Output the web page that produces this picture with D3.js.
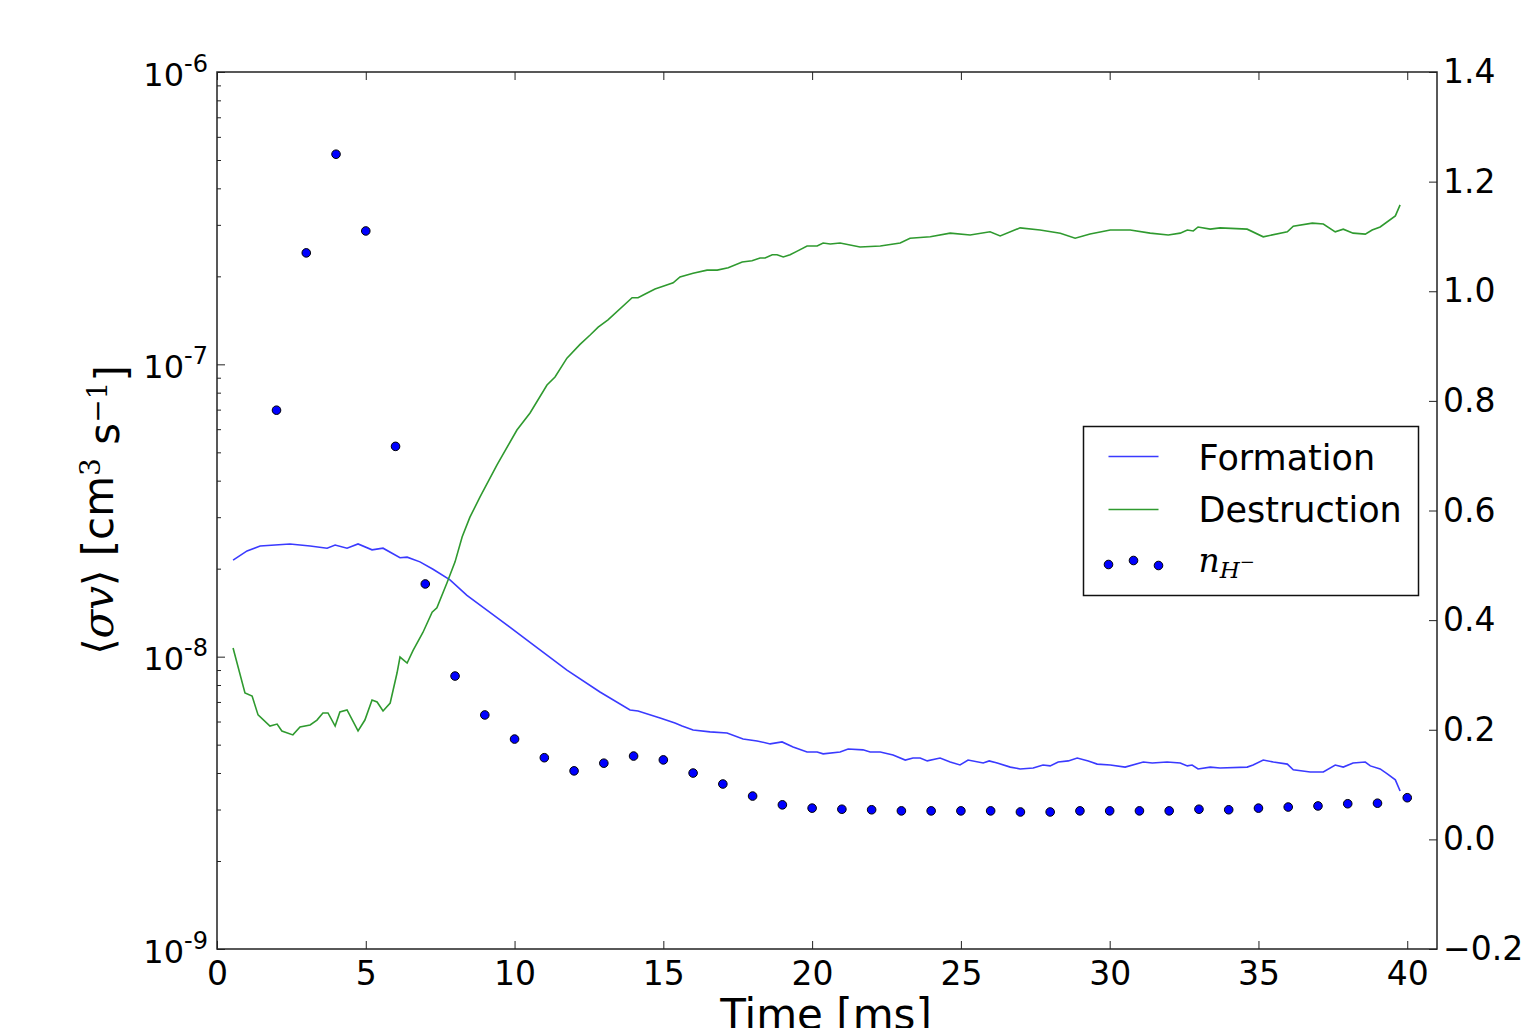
<!DOCTYPE html>
<html>
<head>
<meta charset="utf-8">
<script src="https://cdn.jsdelivr.net/npm/d3@7"></script>
<style>
  body { margin: 0; background: #fff; }
  svg text { font-family: "DejaVu Sans", sans-serif; fill: #000; }
</style>
</head>
<body>
<div id="grafico"></div>
<script>
// ---- data ----
const formationTime = [0.54, 1.01, 1.45, 2.45, 3.13, 3.70, 3.97, 4.37, 4.74, 5.21, 5.58, 6.15, 6.39, 6.82, 7.26, 7.83, 8.40, 9.41, 10.62, 11.76,
  12.87, 13.88, 14.15, 14.89, 15.39, 15.63, 16.00, 16.57, 17.14, 17.68, 18.15, 18.59, 18.99, 19.36, 19.83, 20.17, 20.37, 20.94, 21.21, 21.71,
  21.95, 22.29, 22.72, 23.13, 23.39, 23.63, 23.87, 24.30, 24.64, 24.97, 25.24, 25.75, 25.95, 26.22, 26.66, 26.99, 27.43, 27.76, 28.00, 28.27,
  28.61, 28.91, 29.28, 29.58, 30.02, 30.52, 31.13, 31.43, 31.93, 32.37, 32.61, 32.77, 32.97, 33.38, 33.71, 34.62, 34.82, 35.16, 35.50, 35.97,
  36.17, 36.74, 36.97, 37.18, 37.58, 37.85, 38.18, 38.59, 38.76, 39.09, 39.33, 39.60, 39.76];
const formationValue = [2.14e-8, 2.30e-8, 2.39e-8, 2.43e-8, 2.39e-8, 2.35e-8, 2.41e-8, 2.35e-8, 2.43e-8, 2.32e-8, 2.35e-8, 2.18e-8, 2.19e-8, 2.11e-8, 1.99e-8, 1.83e-8, 1.62e-8, 1.36e-8, 1.10e-8, 9.00e-9,
  7.57e-9, 6.57e-9, 6.52e-9, 6.17e-9, 5.93e-9, 5.79e-9, 5.61e-9, 5.53e-9, 5.48e-9, 5.23e-9, 5.15e-9, 5.03e-9, 5.11e-9, 4.91e-9, 4.72e-9, 4.72e-9, 4.65e-9, 4.72e-9, 4.83e-9, 4.80e-9,
  4.72e-9, 4.72e-9, 4.61e-9, 4.43e-9, 4.50e-9, 4.50e-9, 4.40e-9, 4.50e-9, 4.36e-9, 4.26e-9, 4.43e-9, 4.33e-9, 4.40e-9, 4.33e-9, 4.19e-9, 4.13e-9, 4.16e-9, 4.26e-9, 4.23e-9, 4.36e-9,
  4.40e-9, 4.50e-9, 4.40e-9, 4.29e-9, 4.26e-9, 4.19e-9, 4.36e-9, 4.33e-9, 4.36e-9, 4.33e-9, 4.23e-9, 4.26e-9, 4.13e-9, 4.19e-9, 4.16e-9, 4.19e-9, 4.26e-9, 4.43e-9, 4.36e-9, 4.29e-9,
  4.10e-9, 4.03e-9, 4.03e-9, 4.03e-9, 4.26e-9, 4.19e-9, 4.33e-9, 4.36e-9, 4.23e-9, 4.13e-9, 3.97e-9, 3.79e-9, 3.47e-9];

const destructionTime = [0.54, 0.94, 1.18, 1.38, 1.78, 2.02, 2.18, 2.55, 2.79, 3.13, 3.36, 3.56, 3.73, 3.97, 4.13, 4.37, 4.74, 4.97, 5.21, 5.38,
  5.58, 5.82, 6.05, 6.15, 6.39, 6.59, 6.92, 7.23, 7.39, 7.73, 8.00, 8.24, 8.50, 8.84, 9.41, 10.08, 10.52, 11.09, 11.36, 11.76,
  12.20, 12.54, 12.81, 13.14, 13.95, 14.15, 14.39, 14.72, 14.99, 15.33, 15.56, 16.00, 16.47, 16.81, 17.18, 17.65, 17.98, 18.25, 18.42, 18.66,
  18.82, 19.03, 19.26, 19.50, 19.83, 20.17, 20.37, 20.61, 20.94, 21.61, 22.29, 22.96, 23.29, 23.97, 24.64, 25.31, 25.98, 26.32, 26.99, 27.66,
  28.34, 28.84, 29.34, 30.02, 30.69, 31.36, 31.97, 32.37, 32.61, 32.81, 32.97, 33.38, 33.71, 34.62, 35.16, 35.97, 36.17, 36.81, 37.18, 37.58,
  37.85, 38.18, 38.59, 38.82, 39.09, 39.60, 39.76];
const destructionValue = [1.07e-8, 7.51e-9, 7.33e-9, 6.32e-9, 5.79e-9, 5.88e-9, 5.57e-9, 5.40e-9, 5.75e-9, 5.84e-9, 6.07e-9, 6.42e-9, 6.42e-9, 5.79e-9, 6.47e-9, 6.57e-9, 5.57e-9, 6.07e-9, 7.11e-9, 7.00e-9,
  6.52e-9, 6.94e-9, 8.79e-9, 9.97e-9, 9.51e-9, 1.05e-8, 1.21e-8, 1.42e-8, 1.47e-8, 1.79e-8, 2.11e-8, 2.57e-8, 3.00e-8, 3.52e-8, 4.53e-8, 5.96e-8, 6.82e-8, 8.50e-8, 9.05e-8, 1.05e-7,
  1.17e-7, 1.26e-7, 1.34e-7, 1.42e-7, 1.69e-7, 1.69e-7, 1.74e-7, 1.81e-7, 1.85e-7, 1.90e-7, 1.99e-7, 2.05e-7, 2.10e-7, 2.10e-7, 2.14e-7, 2.24e-7, 2.26e-7, 2.31e-7, 2.31e-7, 2.37e-7,
  2.37e-7, 2.33e-7, 2.37e-7, 2.44e-7, 2.54e-7, 2.54e-7, 2.60e-7, 2.58e-7, 2.60e-7, 2.52e-7, 2.54e-7, 2.60e-7, 2.70e-7, 2.73e-7, 2.81e-7, 2.77e-7, 2.84e-7, 2.75e-7, 2.93e-7, 2.88e-7,
  2.81e-7, 2.70e-7, 2.79e-7, 2.88e-7, 2.88e-7, 2.81e-7, 2.77e-7, 2.81e-7, 2.88e-7, 2.86e-7, 2.95e-7, 2.90e-7, 2.93e-7, 2.90e-7, 2.73e-7, 2.84e-7, 2.97e-7, 3.04e-7, 3.02e-7, 2.84e-7,
  2.90e-7, 2.81e-7, 2.79e-7, 2.88e-7, 2.95e-7, 3.22e-7, 3.51e-7];

const nHTime  = [2, 3, 4, 5, 6, 7, 8, 9, 10, 11, 12, 13, 14, 15, 16, 17, 18, 19, 20, 21,
  22, 23, 24, 25, 26, 27, 28, 29, 30, 31, 32, 33, 34, 35, 36, 37, 38, 39, 40];
const nHValue = [0.783, 1.070, 1.250, 1.110, 0.717, 0.466, 0.298, 0.227, 0.183, 0.149, 0.125, 0.139, 0.152, 0.145, 0.121, 0.101, 0.079, 0.063, 0.057, 0.055,
  0.054, 0.052, 0.052, 0.052, 0.052, 0.050, 0.050, 0.052, 0.052, 0.052, 0.052, 0.055, 0.054, 0.057, 0.059, 0.061, 0.065, 0.066, 0.076];

const xTicks      = [0, 5, 10, 15, 20, 25, 30, 35, 40];
const yLeftTicks  = [1e-9, 1e-8, 1e-7, 1e-6];
const yLeftLabels = ["-9", "-8", "-7", "-6"];
const yRightTicks = [-0.2, 0.0, 0.2, 0.4, 0.6, 0.8, 1.0, 1.2, 1.4];

// ---- layout ----
const margin = { top: 72, left: 217, bottom: 79, right: 84 };
const width  = 1521 - margin.left - margin.right;
const height = 1028 - margin.top - margin.bottom;

const blue  = "#3a3aff";
const green = "#2f9a2f";

const svg = d3.select("#grafico")
              .append("svg")
              .attr("width", 1521)
              .attr("height", 1028);

const g = svg.append("g")
             .attr("transform", `translate(${margin.left}, ${margin.top})`);

const xScale = d3.scaleLinear().domain([0, 41]).range([0, width]);
const yScale = d3.scaleLog().domain([1e-9, 1e-6]).range([height, 0]);
const yRight = d3.scaleLinear().domain([-0.2, 1.4]).range([height, 0]);

// minor ticks on the log axis
const minorTicks = [];
[1e-9, 1e-8, 1e-7].forEach(d => { for (let k = 2; k <= 9; k++) minorTicks.push(d * k); });

// bottom axis
g.append("g")
 .attr("class", "axis")
 .attr("transform", `translate(0, ${height})`)
 .call(d3.axisBottom(xScale).tickValues(xTicks).tickSize(-8).tickPadding(13).tickSizeOuter(0));

// top axis (ticks only)
g.append("g")
 .attr("class", "axis")
 .call(d3.axisTop(xScale).tickValues(xTicks).tickSize(-8).tickFormat("").tickSizeOuter(0));

// left log axis
const leftAx = g.append("g")
 .attr("class", "axis")
 .call(d3.axisLeft(yScale).tickValues(yLeftTicks).tickSize(-8).tickPadding(9).tickSizeOuter(0));

g.append("g")
 .attr("class", "axis minor")
 .call(d3.axisLeft(yScale).tickValues(minorTicks).tickSize(-4).tickFormat("").tickSizeOuter(0));

// right axis
g.append("g")
 .attr("class", "axis")
 .attr("transform", `translate(${width}, 0)`)
 .call(d3.axisRight(yRight).tickValues(yRightTicks).tickSize(-8).tickPadding(6)
        .tickFormat(d3.format(".1f")).tickSizeOuter(0));

g.selectAll(".axis path").remove();
g.selectAll(".axis line").attr("stroke", "#222").attr("stroke-width", 1);
g.selectAll(".axis text").style("font-size", "33px");

// log labels as 10 with a raised exponent
leftAx.selectAll(".tick text")
  .text(null)
  .attr("dy", null)
  .attr("y", 13)
  .each(function(d, i) {
      const t = d3.select(this);
      t.append("tspan").text("10").style("font-size", "32px");
      t.append("tspan").text(yLeftLabels[i]).attr("dy", -14).style("font-size", "24px");
  });

// frame
g.append("rect")
 .attr("width", width)
 .attr("height", height)
 .attr("fill", "none")
 .attr("stroke", "#222")
 .attr("stroke-width", 1.5);

// lines
const formation = formationTime.map((t, i) => ({ t: t, v: formationValue[i] }));
const destruction = destructionTime.map((t, i) => ({ t: t, v: destructionValue[i] }));
const nH = nHTime.map((t, i) => ({ t: t, v: nHValue[i] }));

const line = d3.line()
               .x(d => xScale(d.t))
               .y(d => yScale(d.v));

g.append("path")
 .datum(formation)
 .attr("d", line)
 .attr("stroke", blue)
 .style("stroke-width", 1.6)
 .style("fill", "none");

g.append("path")
 .datum(destruction)
 .attr("d", line)
 .attr("stroke", green)
 .style("stroke-width", 1.6)
 .style("fill", "none");

g.selectAll("circle.nh")
 .data(nH)
 .join("circle")
 .attr("class", "nh")
 .attr("cx", d => xScale(d.t))
 .attr("cy", d => yRight(d.v))
 .attr("r", 4.3)
 .style("fill", "#0000ff")
 .style("stroke", "#000")
 .style("stroke-width", 1);

// axis titles
svg.append("text")
   .attr("x", 826)
   .attr("y", 1029)
   .attr("text-anchor", "middle")
   .style("font-size", "42px")
   .text("Time [ms]");

const yTitle = svg.append("text")
   .attr("transform", "translate(113, 510) rotate(-90)")
   .attr("text-anchor", "middle")
   .style("font-size", "42px");
yTitle.append("tspan").text("\u27E8").style("font-family", "DejaVu Serif");
yTitle.append("tspan").text("\u03C3v").style("font-family", "DejaVu Serif").style("font-style", "italic");
yTitle.append("tspan").text("\u27E9").style("font-family", "DejaVu Serif");
yTitle.append("tspan").text(" [cm");
yTitle.append("tspan").text("3").attr("dy", "-0.45em").style("font-size", "28px").style("font-family", "DejaVu Serif");
yTitle.append("tspan").text(" s").attr("dy", "0.45em");
yTitle.append("tspan").text("\u22121").attr("dy", "-0.45em").style("font-size", "28px").style("font-family", "DejaVu Serif");
yTitle.append("tspan").text("]").attr("dy", "0.45em");

// legend
const legend = svg.append("g").attr("transform", "translate(1083.5, 426.5)");
legend.append("rect")
      .attr("width", 335)
      .attr("height", 169)
      .attr("fill", "#fff")
      .attr("stroke", "#111")
      .attr("stroke-width", 1.5);

legend.append("line").attr("x1", 25).attr("x2", 75).attr("y1", 30).attr("y2", 30)
      .attr("stroke", blue).attr("stroke-width", 1.6);
legend.append("line").attr("x1", 25).attr("x2", 75).attr("y1", 83).attr("y2", 83)
      .attr("stroke", green).attr("stroke-width", 1.6);
legend.selectAll("circle")
      .data([[25, 138], [50, 134], [75, 139]])
      .join("circle")
      .attr("cx", d => d[0])
      .attr("cy", d => d[1])
      .attr("r", 4.3)
      .style("fill", "#0000ff")
      .style("stroke", "#000")
      .style("stroke-width", 1);

legend.append("text").attr("x", 115).attr("y", 43).style("font-size", "35px").text("Formation");
legend.append("text").attr("x", 115).attr("y", 95).style("font-size", "35px").text("Destruction");
const nLab = legend.append("text").attr("x", 115).attr("y", 145)
                   .style("font-family", "DejaVu Serif").style("font-style", "italic").style("font-size", "33px");
nLab.append("tspan").text("n");
nLab.append("tspan").text("H").attr("dy", "0.3em").style("font-size", "23px");
nLab.append("tspan").text("\u2212").attr("dy", "-0.6em").style("font-size", "18px").style("font-style", "normal");
</script>
</body>
</html>
